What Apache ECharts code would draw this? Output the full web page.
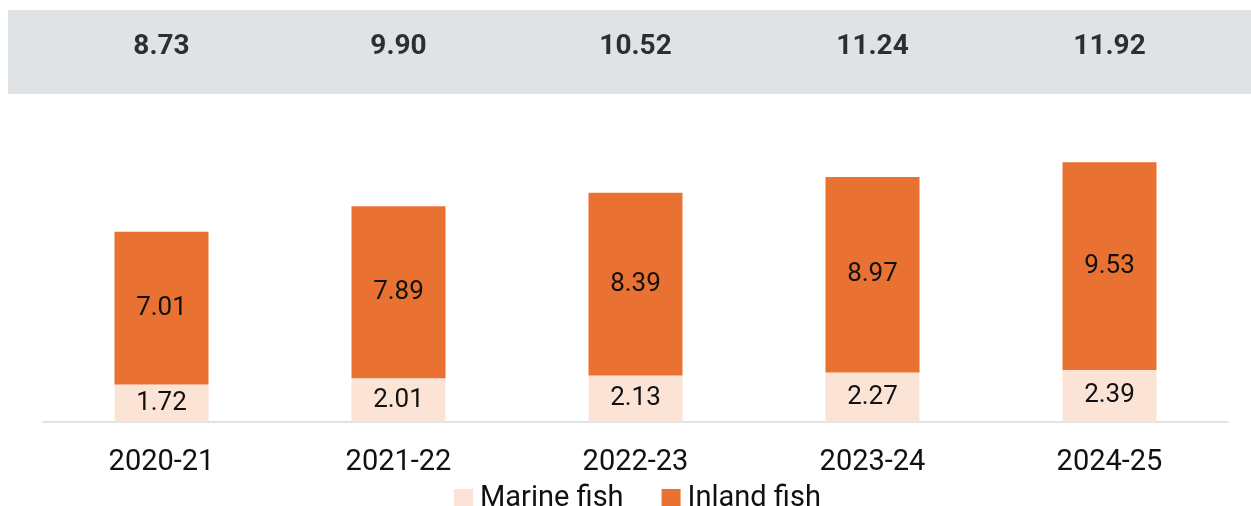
<!DOCTYPE html>
<html>
<head>
<meta charset="utf-8">
<script src="https://cdn.jsdelivr.net/npm/echarts@6/dist/echarts.min.js"></script>
<style>html,body{margin:0;padding:0;background:#fff}#c{width:1251px;height:506px}</style>
</head>
<body>
<div id="c"></div>
<script>
const categories = ['2020-21', '2021-22', '2022-23', '2023-24', '2024-25'];
const marineFish = [1.72, 2.01, 2.13, 2.27, 2.39];
const inlandFish = [7.01, 7.89, 8.39, 8.97, 9.53];
const totals = [8.73, 9.90, 10.52, 11.24, 11.92];
const totalRowLevel = 17.2;

const chart = echarts.init(document.getElementById('c'));
const font = 'Roboto, "Noto Sans", sans-serif';
chart.setOption({
  animation: false,
  textStyle: { fontFamily: font },
  graphic: [{
    type: 'rect', z: -10, silent: true,
    shape: { x: 8, y: 10, width: 1243, height: 84 },
    style: { fill: '#e0e3e6' }
  }],
  grid: { left: 43, right: 23, top: 8, bottom: 84 },
  legend: {
    data: ['Marine fish', 'Inland fish'],
    left: 449, top: 479,
    itemWidth: 19, itemHeight: 19, itemGap: 38,
    icon: 'rect',
    textStyle: { fontSize: 29, color: '#111', fontFamily: font, padding: [0, 0, 0, 2] }
  },
  xAxis: {
    type: 'category', data: categories,
    axisLine: { lineStyle: { color: '#d9d9d9', width: 1.5 } },
    axisTick: { show: false },
    axisLabel: { fontSize: 29, color: '#111', margin: 26, fontFamily: font }
  },
  yAxis: { type: 'value', min: 0, max: 19, show: false, splitLine: { show: false } },
  series: [
    {
      name: 'Marine fish', type: 'bar', stack: 'a', data: marineFish, barWidth: 94,
      itemStyle: { color: '#fbe3d6' },
      label: { show: true, position: 'inside', fontSize: 26, color: '#111', formatter: p => p.value.toFixed(2) }
    },
    {
      name: 'Inland fish', type: 'bar', stack: 'a', data: inlandFish, barWidth: 94,
      itemStyle: { color: '#e97132' },
      label: { show: true, position: 'inside', fontSize: 26, color: '#111', formatter: p => p.value.toFixed(2) }
    },
    {
      name: 'Total', type: 'scatter', symbolSize: 0,
      data: totals.map((t, i) => [i, totalRowLevel, t]),
      label: { show: true, position: 'inside', fontSize: 28, fontWeight: 'bold', color: '#000',
        formatter: p => p.value[2].toFixed(2) },
      tooltip: { show: false }
    }
  ]
});
</script>
</body>
</html>
